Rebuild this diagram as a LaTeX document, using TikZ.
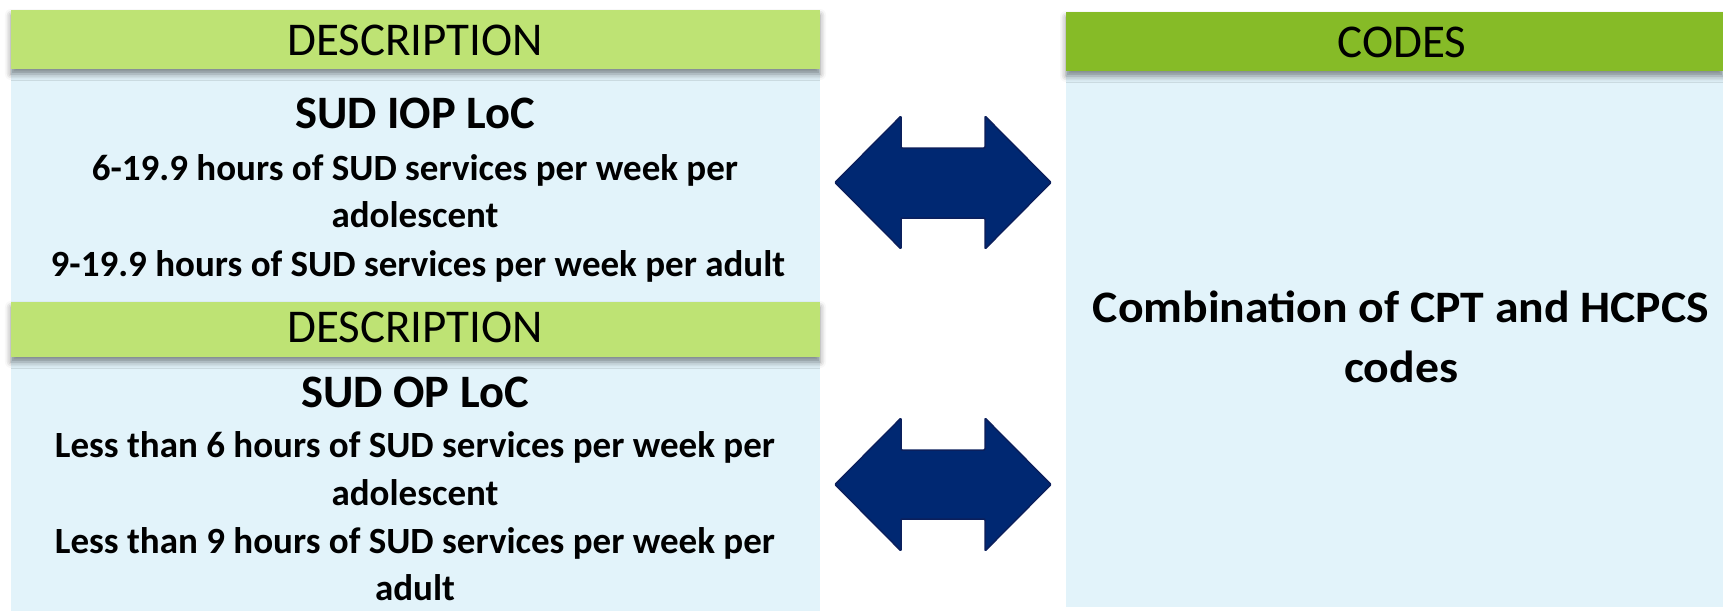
\documentclass[tikz,border=0pt]{standalone}
\usepackage{fontspec}
\setmainfont{Carlito}
\newfontfamily\codesfont[FakeStretch=1.06]{Carlito}
\usetikzlibrary{shadows.blur}
\definecolor{lgreen}{HTML}{BEE374}
\definecolor{dgreen}{HTML}{86BB27}
\definecolor{lblue}{HTML}{E2F3FA}
\definecolor{navy}{HTML}{002872}
\definecolor{navyedge}{HTML}{0B1F5C}
\tikzset{
  bodybox/.style={fill=lblue, draw=none, inner sep=0pt},
  hdrbox/.style={draw=none, inner sep=0pt, blur shadow={shadow xshift=0pt, shadow yshift=-5pt, shadow blur radius=6pt, shadow opacity=45}},
  hdrtxt/.style={anchor=base, inner sep=0pt, font=\fontsize{47}{50}\selectfont},
  titletxt/.style={anchor=base, inner sep=0pt, font=\fontsize{46.5}{50}\selectfont\bfseries},
  linetxt/.style={anchor=base, inner sep=0pt, font=\fontsize{37}{44}\selectfont\bfseries},
  codetxt/.style={anchor=base, inner sep=0pt, font=\codesfont\fontsize{45}{50}\selectfont\bfseries},
  dblarrow/.style={fill=navy, draw=navyedge, line width=1.5pt, line join=round, rounded corners=1pt}
}
\begin{document}
\begin{tikzpicture}[x=1pt, y=-1pt]
\useasboundingbox (0,0) rectangle (1723,611);
% body boxes
\path[bodybox] (11,69) rectangle (820,302);
\path[bodybox] (11,357) rectangle (820,611);
\path[bodybox] (1066,71) rectangle (1723,607);
% headers
\path[hdrbox, fill=lgreen] (11,10) rectangle (820,69);
\path[hdrbox, fill=lgreen] (11,302) rectangle (820,357);
\path[hdrbox, fill=dgreen] (1066,12) rectangle (1723,71);
% header texts
\node[hdrtxt] (h1) at (415,55) {DESCRIPTION};
\node[hdrtxt] (h2) at (415,342) {DESCRIPTION};
\node[hdrtxt] (h3) at (1402,57) {CODES};
% upper description
\node[titletxt] (t1) at (415,128) {SUD IOP LoC};
\node[linetxt] (l11) at (415,180) {6-19.9 hours of SUD services per week per};
\node[linetxt] (l12) at (415,227) {adolescent};
\node[linetxt] (l13) at (418,276) {9-19.9 hours of SUD services per week per adult};
% lower description
\node[titletxt] (t2) at (415,407) {SUD OP LoC};
\node[linetxt] (l21) at (415,457) {Less than 6 hours of SUD services per week per};
\node[linetxt] (l22) at (415,505) {adolescent};
\node[linetxt] (l23) at (415,553) {Less than 9 hours of SUD services per week per};
\node[linetxt] (l24) at (415,600) {adult};
% codes
\node[codetxt] (c1) at (1401,322) {Combination of CPT and HCPCS};
\node[codetxt] (c2) at (1401,382) {codes};
% double arrows
\draw[dblarrow] (835,182.5) -- (901,116) -- (901,148) -- (985,148) -- (985,116) -- (1051,182.5) -- (985,249) -- (985,218) -- (901,218) -- (901,249) -- cycle;
\draw[dblarrow] (835,484.5) -- (901,418) -- (901,450) -- (985,450) -- (985,418) -- (1051,484.5) -- (985,551) -- (985,519) -- (901,519) -- (901,551) -- cycle;
\end{tikzpicture}
\end{document}
